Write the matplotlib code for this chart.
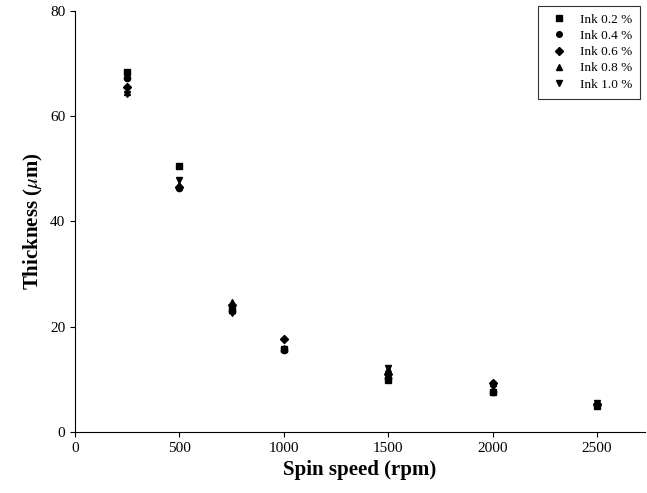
import matplotlib
matplotlib.use('Agg')
import matplotlib.pyplot as plt

plt.rcParams['font.family'] = 'Liberation Serif'
plt.rcParams['mathtext.fontset'] = 'stix'

# spin speeds (rpm)
speed = [250, 500, 750, 1000, 1500, 2000, 2500]

# thickness (um) for each ink concentration
ink_02 = [68.3, 50.5, 23.2, 15.8, 9.8, 7.6, 5.0]
ink_04 = [67.3, 46.3, 23.0, 15.6, 10.3, 7.5, 5.1]
ink_06 = [65.5, 46.6, 24.2, 17.7, 11.0, 9.2, 5.3]
ink_08 = [64.6, 47.0, 24.6, 16.0, 12.0, 9.2, 5.4]
ink_10 = [64.2, 47.9, 22.5, 15.5, 12.1, 8.6, 5.5]

series = [('Ink 0.2 %', ink_02, 's'),
          ('Ink 0.4 %', ink_04, 'o'),
          ('Ink 0.6 %', ink_06, 'D'),
          ('Ink 0.8 %', ink_08, '^'),
          ('Ink 1.0 %', ink_10, 'v')]

fig = plt.figure(figsize=(6.47, 4.93), dpi=100)
ax = fig.add_axes([0.116, 0.124, 0.881, 0.854])

for label, vals, m in series:
    ms = 4.5 if m != 'D' else 4
    ax.plot(speed, vals, linestyle='none', marker=m, color='black',
            markersize=ms, label=label)

ax.set_xlim(0, 2730)
ax.set_ylim(0, 80)
ax.set_xticks([0, 500, 1000, 1500, 2000, 2500])
ax.set_yticks([0, 20, 40, 60, 80])
ax.spines['top'].set_visible(False)
ax.spines['right'].set_visible(False)
ax.tick_params(direction='out', labelsize=11)

ax.set_xlabel('Spin speed (rpm)', fontsize=15, fontweight='bold')
ax.set_ylabel(r'Thickness ($\mu$m)', fontsize=15, fontweight='bold')

leg = ax.legend(loc='upper right', bbox_to_anchor=(1.003, 1.028), fontsize=9.5,
                frameon=True, fancybox=False, edgecolor='black',
                handletextpad=0.6, borderpad=0.6, labelspacing=0.3,
                markerscale=0.9)
leg.get_frame().set_linewidth(0.8)

plt.savefig('out.png', dpi=100)
